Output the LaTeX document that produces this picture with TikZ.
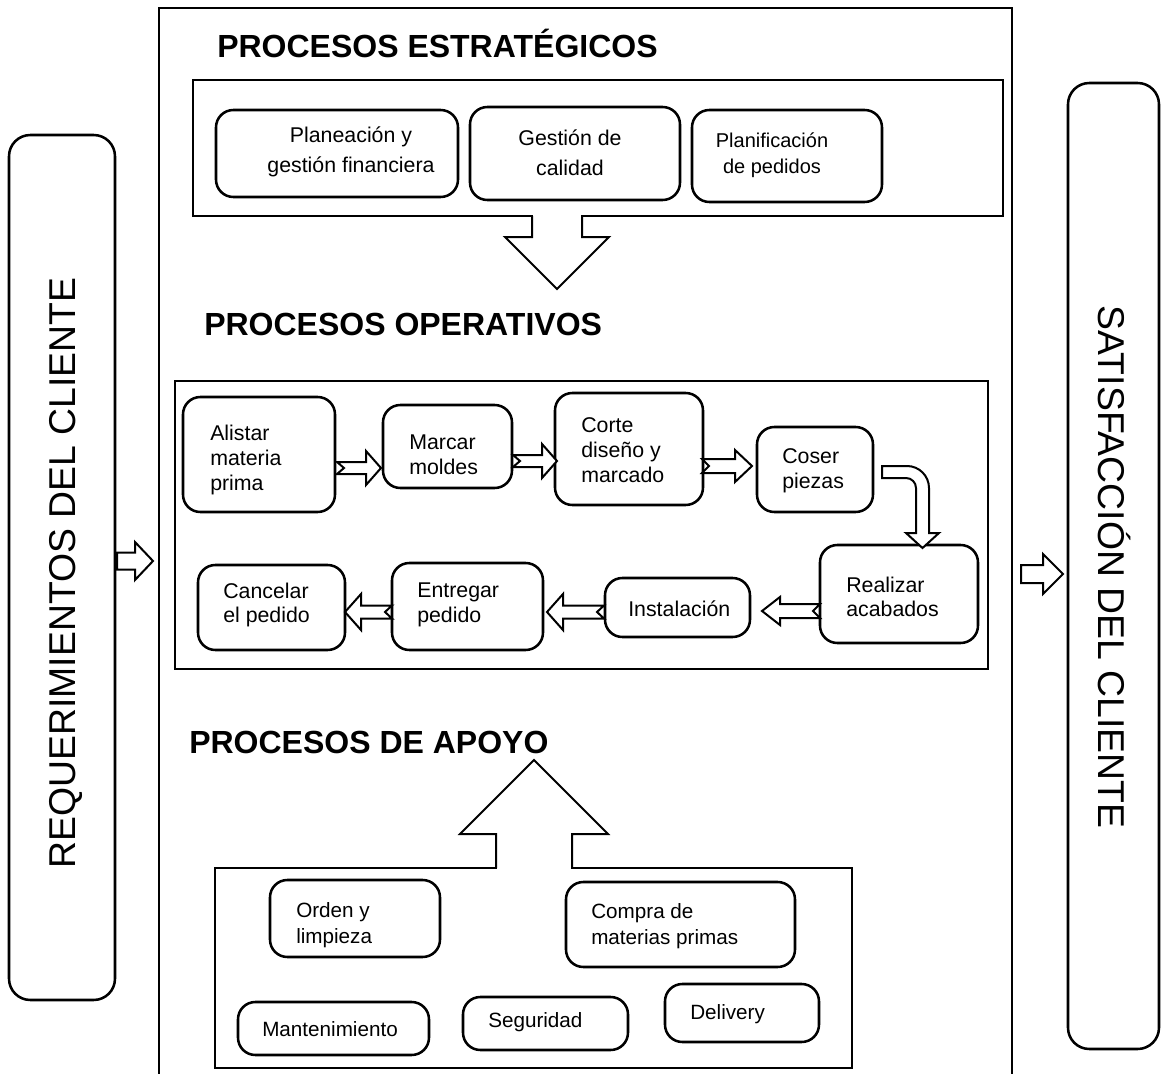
\documentclass[tikz,border=0pt]{standalone}
\usepackage{fontspec}
\setmainfont{Liberation Sans}
\newcommand\bx[6]{\node[#1, minimum width={(#5-#3)*0.75pt}, minimum height={(#6-#4)*0.75pt}] (#2) at ({(#3+#5)/2},{(#4+#6)/2}) {};}
% right-pointing block arrow: tail x, tip x, y, shaft half, head half, head length, notch
\newcommand\rblock[7]{\draw[blockarrow] (#1,#3-#4) -- (#2-#6,#3-#4) -- (#2-#6,#3-#5) -- (#2,#3) -- (#2-#6,#3+#5) -- (#2-#6,#3+#4) -- (#1,#3+#4) -- (#1+#7,#3) -- cycle;}
% left-pointing block arrow: tip x, tail x, y, shaft half, head half, head length, notch
\newcommand\lblock[7]{\draw[blockarrow] (#2,#3-#4) -- (#1+#6,#3-#4) -- (#1+#6,#3-#5) -- (#1,#3) -- (#1+#6,#3+#5) -- (#1+#6,#3+#4) -- (#2,#3+#4) -- (#2-#7,#3) -- cycle;}
\begin{document}
\begin{tikzpicture}[x=0.75pt,y=-0.75pt,
  rbox/.style={draw, line width=1.9pt, rounded corners=13pt, inner sep=0pt, outer sep=0pt},
  bigbox/.style={draw, line width=1.9pt, rounded corners=16pt, inner sep=0pt, outer sep=0pt},
  frame/.style={draw, line width=1.9pt, inner sep=0pt, outer sep=0pt},
  blockarrow/.style={draw, line width=1.5pt, fill=white, line join=miter},
  head/.style={font=\fontsize{24}{28}\selectfont\bfseries, inner sep=0pt, anchor=base west},
  lbl/.style={font=\fontsize{16}{18.5}\selectfont, align=left, inner sep=0pt, anchor=west},
  slbl/.style={font=\fontsize{15.5}{19}\selectfont, align=left, inner sep=0pt, anchor=west},
  elbl/.style={font=\fontsize{16}{22.5}\selectfont, align=center, inner sep=0pt},
  big/.style={font=\fontsize{28}{32}\selectfont, inner sep=0pt}
]
\useasboundingbox (0,0) rectangle (1161,1074);

% side boxes
\bx{bigbox}{req}{9}{135}{115}{1000}
\bx{bigbox}{sat}{1068}{83}{1159}{1049}
\node[big, rotate=90] (reqt) at (66,573) {REQUERIMIENTOS DEL CLIENTE};
\node[big, rotate=-90] (satt) at (1114,567) {SATISFACCIÓN DEL CLIENTE};

% outer frame (open at the bottom)
\coordinate (ob1) at (159,1080);
\coordinate (ot1) at (159,8);
\coordinate (ot2) at (1012,8);
\coordinate (ob2) at (1012,1080);
\draw[line width=2pt] (ob1) -- (ot1) -- (ot2) -- (ob2);

% side arrows
\rblock{117}{153}{561}{8.5}{19}{18}{0}
\rblock{1021}{1063}{574}{9}{20}{20}{0}

% strategic
\node[head] (hest) at (217,58) {PROCESOS ESTRATÉGICOS};
\bx{frame}{estbox}{193}{80}{1003}{216}
\bx{rbox}{plan}{216}{110}{458}{197}
\bx{rbox}{gest}{470}{107}{680}{200}
\bx{rbox}{pped}{692}{110}{882}{202}
\node[elbl] (plant) at (351,152) {Planeación y\\gestión financiera};
\node[elbl] (gestt) at (570,153) {Gestión de\\calidad};
\node[elbl, font=\fontsize{15}{19.5}\selectfont] (ppedt) at (772,155) {Planificación\\de pedidos};

% down arrow
\fill[white] (533.2,211) rectangle (580.8,238);
\draw[line width=1.5pt, line join=miter] (532,216) -- (532,237) -- (505,237) -- (557,289) -- (609,237) -- (582,237) -- (582,216);

% operative
\node[head] (hop) at (204,335) {PROCESOS OPERATIVOS};
\bx{frame}{opbox}{175}{381}{988}{669}
\bx{rbox}{alis}{183}{397}{335}{512}
\bx{rbox}{marc}{383}{405}{512}{488}
\bx{rbox}{cort}{555}{393}{703}{505}
\bx{rbox}{cose}{757}{427}{873}{512}
\bx{rbox}{real}{820}{545}{978}{643}
\bx{rbox}{inst}{605}{578}{750}{637}
\bx{rbox}{entr}{392}{563}{543}{650}
\bx{rbox}{canc}{198}{565}{345}{650}
\node[lbl] (alist) at (210,460) {Alistar\\materia\\prima};
\node[lbl] (marct) at (409,455) {Marcar\\moldes};
\node[lbl] (cortt) at (581,450) {Corte\\diseño y\\marcado};
\node[lbl] (coset) at (782,471) {Coser\\piezas};
\node[lbl] (realt) at (846,597) {Realizar\\acabados};
\node[lbl] (instt) at (628,609) {Instalación};
\node[lbl] (entrt) at (417,605) {Entregar\\pedido};
\node[lbl] (canct) at (223,605) {Cancelar\\el pedido};

\rblock{337}{381}{468}{6}{17}{15}{7}
\rblock{513}{557}{461}{6}{17}{15}{7}
\rblock{702}{752}{466}{7}{16}{17}{7}
\draw[blockarrow] (882,466) -- (907,466) arc[start angle=-90,end angle=0,radius=22] -- (929,533) -- (939,533) -- (922.5,548) -- (906,533) -- (916,533) -- (916,488) arc[start angle=0,end angle=-90,radius=10] -- (882,478) -- cycle;
\lblock{762}{820}{611}{7}{14}{18}{7}
\lblock{547}{604}{612}{6.5}{18}{16}{7}
\lblock{345}{392}{612}{6.5}{18}{16}{7}

% support
\node[head] (hap) at (189,753) {PROCESOS DE APOYO};
\bx{frame}{apbox}{215}{868}{852}{1068}
\fill[white] (497.2,830) rectangle (570.8,871);
\draw[line width=1.5pt, line join=miter] (496,868) -- (496,834) -- (460,834) -- (534,760) -- (608,834) -- (572,834) -- (572,868);
\bx{rbox}{orde}{270}{880}{440}{957}
\bx{rbox}{comp}{566}{882}{795}{967}
\bx{rbox}{mant}{238}{1002}{429}{1055}
\bx{rbox}{segu}{463}{997}{628}{1050}
\bx{rbox}{deli}{665}{984}{819}{1042}
\node[slbl] (ordet) at (296,925) {Orden y\\limpieza};
\node[slbl] (compt) at (591,926) {Compra de\\materias primas};
\node[slbl] (mantt) at (262,1029) {Mantenimiento};
\node[slbl] (segut) at (488,1022) {Seguridad};
\node[slbl] (delit) at (690,1014) {Delivery};
\end{tikzpicture}
\end{document}
